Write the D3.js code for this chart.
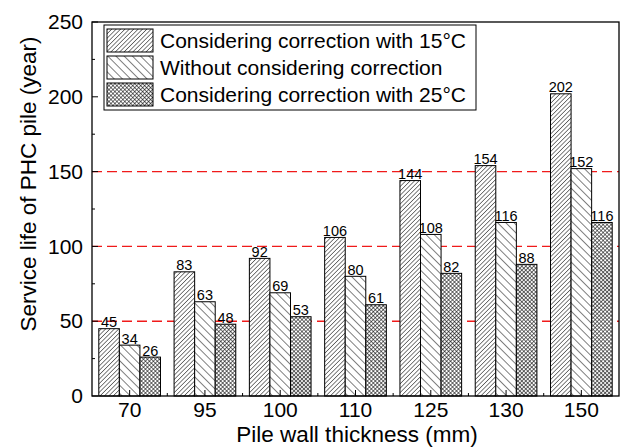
<!DOCTYPE html>
<html>
<head>
<meta charset="utf-8">
<script src="https://cdn.jsdelivr.net/npm/d3@7"></script>
<style>
body { margin: 0; background: #fff; }
text { font-family: "Liberation Sans", Arial, sans-serif; }
</style>
</head>
<body>
<script>
var categories = ["70", "95", "100", "110", "125", "130", "150"];
var seriesNames = ["Considering correction with 15\u00B0C", "Without considering correction", "Considering correction with 25\u00B0C"];
var with15 = [45, 83, 92, 106, 144, 154, 202];
var without = [34, 63, 69, 80, 108, 116, 152];
var with25 = [26, 48, 53, 61, 82, 88, 116];
var yTicks = [0, 50, 100, 150, 200, 250];
var refLines = [50, 100, 150];

var W = 629, H = 447;
var margin = {top: 22, right: 10, bottom: 51, left: 92};
var w = W - margin.left - margin.right;
var h = H - margin.top - margin.bottom;

var svg = d3.select("body").append("svg")
  .attr("width", W).attr("height", H);

// hatch patterns
var defs = svg.append("defs");
function hatch(id, size, angle, sw, cross) {
  var p = defs.append("pattern")
    .attr("id", id)
    .attr("patternUnits", "userSpaceOnUse")
    .attr("width", size).attr("height", size)
    .attr("patternTransform", "rotate(" + angle + ")");
  p.append("rect").attr("width", size).attr("height", size).attr("fill", "#fff");
  p.append("line").attr("x1", 0).attr("y1", 0).attr("x2", 0).attr("y2", size)
    .attr("stroke", "#000").attr("stroke-width", sw);
  if (cross) {
    p.append("line").attr("x1", 0).attr("y1", 0).attr("x2", size).attr("y2", 0)
      .attr("stroke", "#000").attr("stroke-width", sw);
  }
}
hatch("p15", 3.1, 45, 1, false);
hatch("p0", 5.8, -45, 1, false);
hatch("p25", 2.8, 45, 1.1, true);
var fills = ["url(#p15)", "url(#p0)", "url(#p25)"];

var g = svg.append("g").attr("transform", "translate(" + margin.left + "," + margin.top + ")");

var x0 = d3.scaleBand().domain(categories).range([0, w]);
var x1 = d3.scaleBand().domain([0, 1, 2]).range([6.8, x0.bandwidth() - 6.8]);
var y = d3.scaleLinear().domain([0, 250]).range([h, 0]);

// red dashed reference lines
g.selectAll(".ref").data(refLines).enter().append("line")
  .attr("x1", 0).attr("x2", w)
  .attr("y1", function(d) { return y(d); }).attr("y2", function(d) { return y(d); })
  .attr("stroke", "#f01a1a").attr("stroke-width", 1.4)
  .attr("stroke-dasharray", "10,5");

var series = [with15, without, with25];
var groups = g.selectAll(".grp").data(categories).enter().append("g")
  .attr("transform", function(d) { return "translate(" + x0(d) + ",0)"; });

groups.each(function(c, ci) {
  var gg = d3.select(this);
  series.forEach(function(s, si) {
    var v = s[ci];
    gg.append("rect").attr("x", x1(si)).attr("y", y(v))
      .attr("width", x1.bandwidth()).attr("height", h - y(v))
      .attr("fill", fills[si]).attr("stroke", "#000").attr("stroke-width", 1);
    gg.append("text").attr("x", x1(si) + x1.bandwidth() / 2).attr("y", y(v) - 1.5)
      .attr("text-anchor", "middle").attr("font-size", 14.5).text(v);
  });
});

// frame
g.append("rect").attr("width", w).attr("height", h)
  .attr("fill", "none").attr("stroke", "#000").attr("stroke-width", 1.3);

// y axis
var yAxis = d3.axisLeft(y).tickValues(yTicks).tickSize(0).tickPadding(9);
var ya = g.append("g").call(yAxis);
ya.select(".domain").remove();
ya.selectAll("text").attr("font-size", 21).attr("font-family", "Liberation Sans, Arial, sans-serif").attr("fill", "#000");
var yMinor = d3.range(25, 250, 50);
g.selectAll(".ytk").data(yTicks).enter().append("line")
  .attr("x1", 0).attr("x2", 6).attr("y1", function(d) { return y(d); }).attr("y2", function(d) { return y(d); })
  .attr("stroke", "#000");
g.selectAll(".ytm").data(yMinor).enter().append("line")
  .attr("x1", 0).attr("x2", 3).attr("y1", function(d) { return y(d); }).attr("y2", function(d) { return y(d); })
  .attr("stroke", "#000");

// x axis
var xAxis = d3.axisBottom(x0).tickSize(0).tickPadding(6);
var xa = g.append("g").attr("transform", "translate(0," + h + ")").call(xAxis);
xa.select(".domain").remove();
xa.selectAll("text").attr("font-size", 21).attr("font-family", "Liberation Sans, Arial, sans-serif").attr("fill", "#000");
g.selectAll(".xtk").data(categories).enter().append("line")
  .attr("x1", function(d) { return x0(d) + x0.bandwidth() / 2; })
  .attr("x2", function(d) { return x0(d) + x0.bandwidth() / 2; })
  .attr("y1", h).attr("y2", h - 6).attr("stroke", "#000");
g.selectAll(".xtm").data(categories.slice(1)).enter().append("line")
  .attr("x1", function(d) { return x0(d); }).attr("x2", function(d) { return x0(d); })
  .attr("y1", h).attr("y2", h - 3).attr("stroke", "#000");

// axis titles
svg.append("text").attr("x", 357).attr("y", 442)
  .attr("text-anchor", "middle").attr("font-size", 22.5).text("Pile wall thickness (mm)");
svg.append("text").attr("transform", "translate(36,184) rotate(-90)")
  .attr("text-anchor", "middle").attr("font-size", 22.5).text("Service life of PHC pile (year)");

// legend
var lg = svg.append("g").attr("transform", "translate(104,25)");
lg.append("rect").attr("width", 372).attr("height", 85)
  .attr("fill", "#fff").attr("stroke", "#000").attr("stroke-width", 1);
seriesNames.forEach(function(n, i) {
  var row = lg.append("g").attr("transform", "translate(3," + (4 + i * 27) + ")");
  row.append("rect").attr("width", 46).attr("height", 23)
    .attr("fill", fills[i]).attr("stroke", "#000").attr("stroke-width", 1);
  row.append("text").attr("x", 53).attr("y", 19).attr("font-size", 21).text(n);
});
</script>
</body>
</html>
